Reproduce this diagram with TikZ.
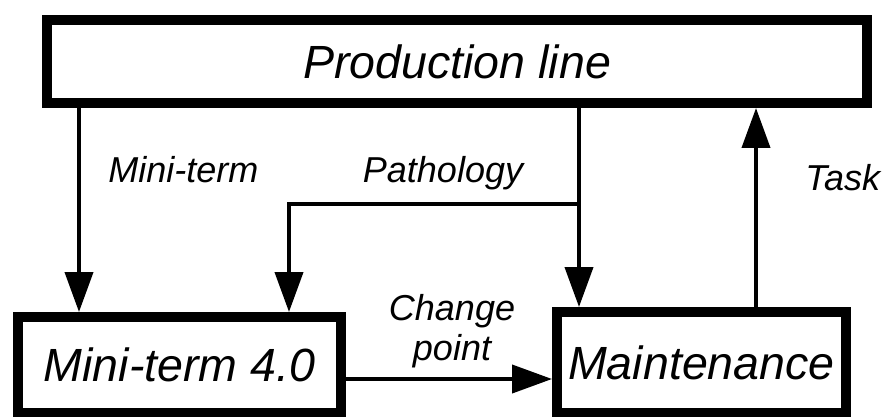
\documentclass[tikz,border=0pt]{standalone}
\usepackage{fontspec}
\setmainfont{Liberation Sans}
\usetikzlibrary{arrows.meta}

\begin{document}
\begin{tikzpicture}[x=0.02cm, y=-0.02cm]

      \tikzset{block/.style={draw, line width=0.2cm, inner sep=0pt, font=\fontsize{26.5}{30}\selectfont\itshape}}
      \tikzset{flow/.style={-{Triangle[length=0.8cm, width=0.56cm]}, line width=0.08cm}}
      \tikzset{tag/.style={inner sep=0pt, font=\fontsize{20.5}{22.8}\selectfont\itshape}}
      \useasboundingbox (0,0) rectangle (885,416);
%% Blocks
      	\node[block, minimum width=16.4cm, minimum height=1.66cm] (line) at (457,61.5) {Production line};
      	\node[block, minimum width=6.46cm, minimum height=1.92cm] (mini) at (179.5,365) {Mini-term 4.0};
      	\node[block, minimum width=5.78cm, minimum height=2.02cm] (maint) at (701.5,362.5) {Maintenance};
%% Columns and rows of the connectors
      	\coordinate (c1) at (79,0);
      	\coordinate (c2) at (289,0);
      	\coordinate (c3) at (579,0);
      	\coordinate (c4) at (756,0);
      	\coordinate (split) at (579,204);
      	\coordinate (cp) at (0,379);
%Edges
		\draw[flow] (line.south -| c1) -- (mini.north -| c1);
		\draw[flow] (line.south -| c3) -- (maint.north -| c3);
		\draw[flow] (split) -| (mini.north -| c2);
		\draw[flow] (maint.north -| c4) -- (line.south -| c4);
		\draw[flow] (mini.east |- cp) -- (maint.west |- cp);
%Labels
		\node[tag, anchor=base west] (lmini) at (108,182) {Mini-term};
		\node[tag, anchor=base] (lpath) at (443,182) {Pathology};
		\node[tag, anchor=base west] (ltask) at (805,190) {Task};
		\node[tag, anchor=south, align=center] (lchange) at (452,368) {Change\\point};

	\end{tikzpicture}
\end{document}
